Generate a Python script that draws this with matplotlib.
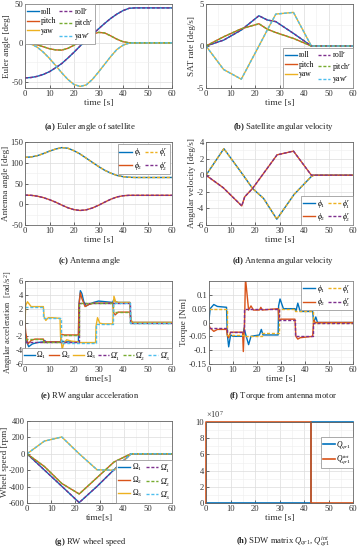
import matplotlib
matplotlib.use("Agg")
import matplotlib.pyplot as plt
from matplotlib.ticker import FuncFormatter, AutoMinorLocator

plt.rcParams['font.family'] = ['Liberation Serif', 'DejaVu Serif']
plt.rcParams['mathtext.fontset'] = 'custom'
plt.rcParams['mathtext.rm'] = 'Liberation Serif'
plt.rcParams['mathtext.it'] = 'Liberation Serif:italic'
plt.rcParams['mathtext.bf'] = 'Liberation Serif:bold'
plt.rcParams['axes.unicode_minus'] = False

BLUE = '#0072BD'; ORANGE = '#D95319'; YELLOW = '#EDB120'
PURPLE = '#7E2F8E'; GREEN = '#77AC30'; CYAN = '#4DBEEE'

# ---------------- (a) Euler angle ----------------
t_a = [0, 2.5, 5, 7.5, 10, 12.5, 15, 17.5, 20, 22.5, 25, 27.5, 30, 32.5, 35, 37.5, 40, 42.5, 45, 60]
roll_a = [-45, -44.5, -43, -40.5, -37, -32, -26.5, -19.5, -12, -4, 3, 10.5, 18, 25, 31.5, 37, 41.5, 44.5, 45, 45]
pitch_a = [0, -0.7, -2.5, -5, -7.5, -9, -9.3, -7, -3, 1.5, 6.5, 11, 13.5, 12.8, 9, 4.8, 1.5, 0.2, 0, 0]
yaw_a = [0, -1.5, -5.5, -12, -20, -29, -38.5, -47, -53.5, -56, -54, -47, -37.5, -27.5, -17.5, -8.5, -3, -0.3, 0, 0]
roll_ar, pitch_ar, yaw_ar = roll_a, pitch_a, yaw_a

# ---------------- (b) Satellite rate ----------------
t_b = [0, 7.2, 14.4, 21.6, 25, 28.5, 35.7, 43, 60]
roll_b = [0, 0.7, 1.9, 3.6, 3.1, 2.9, 1.5, 0, 0]
pitch_b = [0, 1.1, 2.05, 2.65, 2.0, 1.6, 0.9, 0, 0]
yaw_b = [0, -2.8, -3.95, 0, 1.9, 3.8, 4.0, 0, 0]
roll_br, pitch_br, yaw_br = roll_b, pitch_b, yaw_b

# ---------------- (c) Antenna angle ----------------
t_c = [0, 2.5, 5, 7.5, 10, 12.5, 15, 17.5, 20, 22.5, 25, 27.5, 30, 32.5, 35, 37.5, 40, 42.5, 45, 60]
phi1_c = [113, 114, 117, 122, 128, 133, 136.5, 135, 129, 121, 111, 101, 91, 82, 75, 69.5, 66.5, 65, 64.5, 64.5]
phi2_c = [22, 21.5, 19.5, 16, 11, 5, -2, -8.5, -13, -15, -13.5, -9, -2.5, 5, 12, 17.5, 20.5, 21.5, 21.5, 21.5]
phi1_cr, phi2_cr = phi1_c, phi2_c

# ---------------- (d) Antenna angular velocity ----------------
t_d1 = [0, 7.3, 15.2, 19, 23.5, 28.9, 36, 43, 44, 60]
phi1_d = [0, 3.2, 0, -1.6, -2.8, -5.3, -2.3, -0.15, 0, 0]
t_d2 = [0, 7, 14.6, 15.8, 19, 29, 35.7, 43, 60]
phi2_d = [0, -1.5, -3.7, -2.6, -1.6, 2.45, 2.9, 0, 0]
phi1_dr, phi2_dr = phi1_d, phi2_d

# ---------------- (e) RW angular acceleration ----------------
t_e1 = [0, 0.3, 1.5, 3, 5, 7.5, 8, 9, 10, 14.5, 15, 17, 21.8, 22, 22.6, 23.2, 24, 25, 26, 28, 30, 35.8, 36.2, 37, 38, 42.8, 43.2, 44, 60]
om1_e = [0, -2.5, -3.5, -3.1, -2.9, -2.8, -2.6, -2.9, -2.8, -2.8, -2.7, -2.8, -2.8, 2.5, 4.6, 4.2, 3.0, 2.4, 2.6, 2.9, 3.1, 2.9, 3.3, 3.0, 2.9, 2.9, 0.3, 0, 0]
t_e2 = [0, 0.3, 1.2, 2.5, 4, 7.5, 7.8, 8.5, 10, 14.5, 14.8, 16, 18, 21.8, 22, 22.6, 23.2, 24.5, 26, 28, 35.8, 36.2, 36.8, 38, 42.8, 43.2, 44, 60]
om2_e = [0, -1.5, -3.1, -2.6, -2.4, -2.4, -2.9, -2.8, -2.8, -2.8, -1.7, -1.8, -1.8, -1.8, 2.5, 4.3, 3.5, 2.3, 2.6, 2.8, 2.8, 1.4, 1.1, 1.5, 1.5, 0.3, 0, 0]
t_e3 = [0, 0.3, 1, 2.5, 4, 7.5, 7.8, 8.5, 9.5, 11, 14.3, 14.5, 15.2, 15.8, 17, 19, 21.8, 22.5, 28.8, 29, 29.6, 30.5, 32, 35.8, 36.3, 37, 38, 42.8, 43.2, 44, 60]
om3_e = [0, 2.5, 3.0, 2.3, 2.3, 2.3, 0.8, 0.3, 0.7, 0.7, 0.6, -2, -3.9, -3.0, -2.5, -2.7, -2.8, -2.9, -2.9, -0.5, 0.7, -0.1, -0.2, -0.2, 3.8, 3.0, 2.9, 2.9, 0.3, 0, 0]
t_e1r = [0, 22, 43, 60]
om1_er = [-2.8, 2.8, 0, 0]
t_e2r = [0, 7.5, 14.5, 22, 36, 43, 60]
om2_er = [-2.4, -2.8, -1.8, 2.8, 1.5, 0, 0]
t_e3r = [0, 7.5, 14.5, 29, 36, 43, 60]
om3_er = [2.3, 0.6, -2.9, -0.2, 2.8, 0, 0]

# ---------------- (f) Torque ----------------
t_f1 = [0, 0.5, 2, 3.5, 7.3, 7.6, 8.2, 9, 10, 14.2, 14.6, 15.2, 16.5, 17.5, 21, 21.8, 22.5, 28.8, 29, 29.6, 31, 35.8, 36.2, 37, 38, 43.2, 43.6, 44.5, 45.2, 60]
phi1_f = [0.01, 0.05, 0.065, 0.058, 0.055, -0.04, -0.088, -0.045, -0.05, -0.05, -0.02, -0.04, -0.08, -0.05, -0.045, -0.025, -0.045, -0.045, 0.06, 0.085, 0.05, 0.05, 0.04, 0.07, 0.04, 0.04, 0.0, 0.02, 0, 0]
t_f2 = [0, 0.5, 2, 3.5, 7.3, 7.6, 8.2, 9, 14.0, 14.3, 14.8, 15.2, 16.5, 17.5, 18.5, 21, 21.6, 22.2, 28.8, 29.1, 30, 35.8, 36.2, 37, 38, 43.2, 43.6, 44.2, 60]
phi2_f = [-0.01, -0.02, -0.032, -0.025, -0.025, -0.045, -0.055, -0.035, -0.035, -0.105, 0.0, 0.16, 0.045, 0.06, 0.045, 0.045, 0.055, 0.045, 0.05, 0.01, 0.012, 0.012, -0.05, -0.06, -0.055, -0.05, 0.01, 0, 0]
t_f1r = [0, 7.5, 14.5, 22, 29, 36, 43.5, 60]
phi1_fr = [0.048, -0.045, -0.047, -0.038, 0.048, 0.04, 0, 0]
t_f2r = [0, 7.5, 14.5, 29, 36, 43.5, 60]
phi2_fr = [-0.02, -0.035, 0.05, 0.01, -0.05, 0, 0]

# ---------------- (g) Wheel speed ----------------
t_g = [0, 7.2, 14.4, 21.6, 29, 36, 43, 60]
om1_g = [0, -198, -396, -595, -397, -194, 0, 0]
om2_g = [0, -155, -362, -490, -290, -100, 0, 0]
om3_g = [0, 155, 205, 0, -195, -200, 0, 0]
om1_gr, om2_gr, om3_gr = om1_g, om2_g, om3_g

# ---------------- (h) SDW matrix ----------------
t_h1 = [0, 43, 43, 60]
q_h = [0, 0, 1e8, 1e8]
t_h2 = [0, 0, 43, 43, 60]
qint_h = [0, 1e8, 1e8, 0, 0]

W, H = 361, 550
fig = plt.figure(figsize=(W / 100, H / 100), dpi=100)

def axpx(x0, x1, y0, y1):
    return fig.add_axes([x0 / W, 1 - y1 / H, (x1 - x0) / W, (y1 - y0) / H])

FS = 6.2
LW = 1.0
DASH = (0, (2.2, 1.3))

def style(ax, ylim, yticks, ylabel, xlabel='time [s]'):
    ax.set_xlim(0, 60)
    ax.set_xticks([0, 10, 20, 30, 40, 50, 60])
    ax.set_ylim(*ylim)
    ax.set_yticks(yticks)
    ax.xaxis.set_minor_locator(AutoMinorLocator(2))
    ax.yaxis.set_minor_locator(AutoMinorLocator(2))
    ax.grid(True, which='major', color='#dcdcdc', lw=0.5)
    ax.grid(True, which='minor', color='#eeeeee', lw=0.4)
    ax.set_axisbelow(True)
    ax.tick_params(direction='in', length=2, width=0.5, labelsize=FS, colors='#333333', pad=1.5)
    ax.tick_params(which='minor', length=0)
    for s in ax.spines.values():
        s.set_color('#666666'); s.set_linewidth(0.6)
    ax.set_xlabel(xlabel, fontsize=6.8, color='#333333', labelpad=1)
    if ylabel:
        ax.set_ylabel(ylabel, fontsize=6.6, color='#333333', labelpad=0.3)

def leg(ax, **kw):
    base = dict(fontsize=5.5, frameon=True, fancybox=False, framealpha=1, edgecolor='#888888',
                handlelength=1.6, handletextpad=0.25, columnspacing=0.4, borderpad=0.25,
                labelspacing=0.2, borderaxespad=0.0)
    base.update(kw)
    l = ax.legend(**base)
    l.get_frame().set_linewidth(0.5)
    return l

def caption(x, y, label, text):
    fig.text(x / W, 1 - y / H, r"$\mathbf{(" + label + r")}$ " + text, fontsize=6.2,
             ha='center', va='center', color='#222222')

# (a)
ax = axpx(25, 172, 4, 88)
h1, = ax.plot(t_a, roll_a, color=BLUE, lw=LW, label='roll')
h2, = ax.plot(t_a, pitch_a, color=ORANGE, lw=LW, label='pitch')
h3, = ax.plot(t_a, yaw_a, color=YELLOW, lw=LW, label='yaw')
h4, = ax.plot(t_a, roll_ar, color=PURPLE, lw=LW, ls=DASH, label=r'roll$^r$')
h5, = ax.plot(t_a, pitch_ar, color=GREEN, lw=LW, ls=DASH, label=r'pitch$^r$')
h6, = ax.plot(t_a, yaw_ar, color=CYAN, lw=LW, ls=DASH, label=r'yaw$^r$')
style(ax, (-58, 50), [-50, 0, 50], 'Euler angle [deg]')
leg(ax, handles=[h1, h2, h3, h4, h5, h6], ncol=2, loc='upper left')
caption(90, 127, 'a', 'Euler angle of satellite')

# (b)
ax = axpx(206, 353, 4, 88)
h1, = ax.plot(t_b, roll_b, color=BLUE, lw=LW, label='roll')
h2, = ax.plot(t_b, pitch_b, color=ORANGE, lw=LW, label='pitch')
h3, = ax.plot(t_b, yaw_b, color=YELLOW, lw=LW, label='yaw')
h4, = ax.plot(t_b, roll_br, color=PURPLE, lw=LW, ls=DASH, label=r'roll$^r$')
h5, = ax.plot(t_b, pitch_br, color=GREEN, lw=LW, ls=DASH, label=r'pitch$^r$')
h6, = ax.plot(t_b, yaw_br, color=CYAN, lw=LW, ls=DASH, label=r'yaw$^r$')
style(ax, (-5, 5), [-5, 0, 5], 'SAT rate [deg/s]')
leg(ax, handles=[h1, h2, h3, h4, h5, h6], ncol=2, loc='lower right')
caption(283, 127, 'b', 'Satellite angular velocity')

# (c)
ax = axpx(25, 172, 142, 225)
h1, = ax.plot(t_c, phi1_c, color=BLUE, lw=LW, label=r'$\phi_1$')
h2, = ax.plot(t_c, phi2_c, color=ORANGE, lw=LW, label=r'$\phi_2$')
h3, = ax.plot(t_c, phi1_cr, color=YELLOW, lw=LW, ls=DASH, label=r'$\phi_1^r$')
h4, = ax.plot(t_c, phi2_cr, color=PURPLE, lw=LW, ls=DASH, label=r'$\phi_2^r$')
style(ax, (-50, 150), [-50, 0, 50, 100, 150], 'Antenna angle [deg]')
leg(ax, handles=[h1, h2, h3, h4], ncol=2, loc='upper right', borderaxespad=0.3)
caption(90, 261, 'c', 'Antenna angle')

# (d)
ax = axpx(206, 353, 142, 225)
h1, = ax.plot(t_d1, phi1_d, color=BLUE, lw=LW, label=r'$\phi_1$')
h2, = ax.plot(t_d2, phi2_d, color=ORANGE, lw=LW, label=r'$\phi_2$')
h3, = ax.plot(t_d1, phi1_dr, color=YELLOW, lw=LW, ls=DASH, label=r'$\phi_1^r$')
h4, = ax.plot(t_d2, phi2_dr, color=PURPLE, lw=LW, ls=DASH, label=r'$\phi_2^r$')
style(ax, (-6, 4), [-6, -4, -2, 0, 2, 4], 'Angular velocity [deg/s]')
leg(ax, handles=[h1, h2, h3, h4], ncol=2, loc='lower right')
caption(283, 261, 'd', 'Antenna angular velocity')

# (e)
ax = axpx(25, 172, 281, 364)
h1, = ax.plot(t_e1, om1_e, color=BLUE, lw=LW, label=r'$\Omega_1$')
h2, = ax.plot(t_e2, om2_e, color=ORANGE, lw=LW, label=r'$\Omega_2$')
h3, = ax.plot(t_e3, om3_e, color=YELLOW, lw=LW, label=r'$\Omega_3$')
h4, = ax.plot(t_e1r, om1_er, color=PURPLE, lw=LW, ls=DASH, drawstyle='steps-post', label=r'$\Omega_1^r$')
h5, = ax.plot(t_e2r, om2_er, color=GREEN, lw=LW, ls=DASH, drawstyle='steps-post', label=r'$\Omega_2^r$')
h6, = ax.plot(t_e3r, om3_er, color=CYAN, lw=LW, ls=DASH, drawstyle='steps-post', label=r'$\Omega_3^r$')
style(ax, (-6, 6), [-6, -4, -2, 0, 2, 4, 6], r'Angular acceleration  [rad/s$^2$]', xlabel='time[s]')
ax.yaxis.label.set_fontsize(6.2)
leg(ax, handles=[h1, h2, h3, h4, h5, h6], ncol=6, loc='lower right', handlelength=1.4,
    handletextpad=0.2, columnspacing=0.3)
caption(90, 396, 'e', 'RW angular acceleration')

# (f)
ax = axpx(209, 353, 281, 364)
h1, = ax.plot(t_f1, phi1_f, color=BLUE, lw=LW, label=r'$\phi_1$')
h2, = ax.plot(t_f2, phi2_f, color=ORANGE, lw=LW, label=r'$\phi_2$')
h3, = ax.plot(t_f1r, phi1_fr, color=YELLOW, lw=LW, ls=DASH, drawstyle='steps-post', label=r'$\phi_1^r$')
h4, = ax.plot(t_f2r, phi2_fr, color=PURPLE, lw=LW, ls=DASH, drawstyle='steps-post', label=r'$\phi_2^r$')
style(ax, (-0.15, 0.15), [-0.15, -0.1, -0.05, 0, 0.05, 0.1], 'Torque [Nm]')
ax.yaxis.set_major_formatter(FuncFormatter(lambda v, p: f"{v:g}"))
leg(ax, handles=[h1, h2, h3, h4], ncol=2, loc='upper right')
caption(283, 396, 'f', 'Torque from antenna motor')

# (g)
ax = axpx(27, 172, 421, 503)
h1, = ax.plot(t_g, om1_g, color=BLUE, lw=LW, label=r'$\Omega_1$')
h2, = ax.plot(t_g, om2_g, color=ORANGE, lw=LW, label=r'$\Omega_2$')
h3, = ax.plot(t_g, om3_g, color=YELLOW, lw=LW, label=r'$\Omega_3$')
h4, = ax.plot(t_g, om1_gr, color=PURPLE, lw=LW, ls=DASH, label=r'$\Omega_1^r$')
h5, = ax.plot(t_g, om2_gr, color=GREEN, lw=LW, ls=DASH, label=r'$\Omega_2^r$')
h6, = ax.plot(t_g, om3_gr, color=CYAN, lw=LW, ls=DASH, label=r'$\Omega_3^r$')
style(ax, (-600, 400), [-600, -400, -200, 0, 200, 400], 'Wheel speed [rpm]', xlabel='time[s]')
leg(ax, handles=[h1, h2, h3, h4, h5, h6], ncol=2, loc='lower right')
caption(90, 542, 'g', 'RW wheel speed')

# (h)
ax = axpx(206, 353, 422, 503)
h1, = ax.plot(t_h1, q_h, color=BLUE, lw=1.2, label=r'$Q_{qr1}$', clip_on=False)
h2, = ax.plot(t_h2, qint_h, color=ORANGE, lw=1.2, label=r'$Q^{int}_{qr1}$', clip_on=False)
style(ax, (0, 1e8), [0, 2e7, 4e7, 6e7, 8e7, 10e7], None)
ax.yaxis.set_major_formatter(FuncFormatter(lambda v, p: f"{v / 1e7:g}"))
ax.text(0.0, 1.02, r'$\times10^7$', transform=ax.transAxes, fontsize=6, color='#333333',
        ha='left', va='bottom')
leg(ax, handles=[h1, h2], ncol=1, loc='center right', bbox_to_anchor=(1.0, 0.62),
    handlelength=1.6, handletextpad=0.2)
caption(283, 542, 'h', r'SDW matrix $Q_{qr1}$, $Q^{int}_{qr1}$')

fig.savefig('out.png', dpi=100)
